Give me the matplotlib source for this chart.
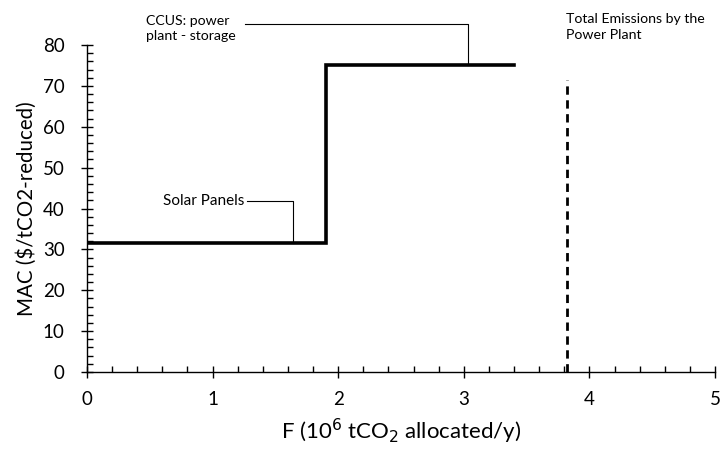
import matplotlib.pyplot as plt
from matplotlib.ticker import MultipleLocator

plt.rcParams['font.family'] = ['Lato', 'DejaVu Sans']

# abatement steps: allocated amount (10^6 tCO2/y) and marginal cost ($/tCO2)
step_x = [0, 1.9, 1.9, 3.4]
step_mac = [31.5, 31.5, 75, 75]
total_emissions = 3.82

fig = plt.figure(figsize=(7.23, 4.55), dpi=100)
ax = fig.add_axes([0.1203, 0.1824, 0.8687, 0.7186])

ax.plot(step_x, step_mac, color='black', lw=2.6, solid_joinstyle='miter')
ax.plot([total_emissions, total_emissions], [0, 71.5], color='black', lw=2,
        ls=(0, (3, 2)))

ax.set_xlim(0, 5)
ax.set_ylim(0, 80)
ax.xaxis.set_major_locator(MultipleLocator(1))
ax.xaxis.set_minor_locator(MultipleLocator(0.2))
ax.yaxis.set_major_locator(MultipleLocator(10))
ax.yaxis.set_minor_locator(MultipleLocator(2))
ax.tick_params(which='major', direction='inout', length=8, width=1, labelsize=13.5, color='black')
ax.tick_params(which='minor', direction='in', length=4, width=1)
ax.tick_params(axis='x', which='major', pad=10)
ax.tick_params(axis='y', which='major', pad=12)
for s in ['top', 'right']:
    ax.spines[s].set_visible(False)
for s in ['left', 'bottom']:
    ax.spines[s].set_linewidth(1)

ax.set_xlabel('F (10$^{6}$ tCO$_{2}$ allocated/y)', fontsize=16, labelpad=6)
ax.set_ylabel('MAC ($/tCO2-reduced)', fontsize=14.8, labelpad=4)

# callouts
ax.plot([1.64, 1.64, 1.27], [31.5, 41.8, 41.8], color='black', lw=0.8)
ax.text(1.25, 41.8, 'Solar Panels', fontsize=11, ha='right', va='center')

ax.plot([3.03, 3.03, 1.26], [75, 85.1, 85.1], color='black', lw=0.8, clip_on=False)
ax.text(0.47, 84.0, 'CCUS: power\nplant - storage', fontsize=10.2, ha='left', va='center',
        linespacing=1.25)

ax.text(3.81, 84.4, 'Total Emissions by the\nPower Plant', fontsize=10.2, ha='left', va='center',
        linespacing=1.35)

fig.savefig('out.png', dpi=100)
